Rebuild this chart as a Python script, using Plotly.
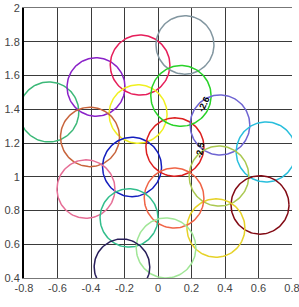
import numpy as np
import plotly.graph_objects as go

# circle centres, radii and colours
cx = [-0.651, -0.370, -0.107, -0.119, -0.406, -0.155, 0.101, 0.161, 0.137, 0.370,
      0.645, 0.364, 0.609, 0.346, 0.096, -0.430, -0.173, 0.048, -0.215]
cy = [1.384, 1.532, 1.662, 1.372, 1.236, 1.058, 1.176, 1.781, 1.479, 1.307,
      1.147, 1.004, 0.833, 0.696, 0.874, 0.927, 0.756, 0.578, 0.465]
rad = [0.178, 0.173, 0.178, 0.173, 0.176, 0.176, 0.173, 0.173, 0.180, 0.178,
       0.178, 0.178, 0.173, 0.173, 0.178, 0.173, 0.173, 0.178, 0.166]
colors = ["#3cb878", "#8a22c8", "#e61e5a", "#f0f020", "#c8643c", "#141ebe", "#dc1e1e",
          "#8296a0", "#28d228", "#6e64d2", "#28bedc", "#aac850", "#820a14", "#e6d228",
          "#f06446", "#e66e96", "#32be8c", "#a0e696", "#281e5a"]

label_text = ["-2.6", "-2.5"]
label_x = [0.275, 0.251]
label_y = [1.431, 1.159]
label_angle = [-65, -80]

x_ticks = [-0.8, -0.6, -0.4, -0.2, 0, 0.2, 0.4, 0.6, 0.8]
y_ticks = [0.4, 0.6, 0.8, 1.0, 1.2, 1.4, 1.6, 1.8, 2.0]

t = np.linspace(0, 2 * np.pi, 121)
fig = go.Figure()
for x0, y0, r, c in zip(cx, cy, rad, colors):
    fig.add_trace(go.Scatter(x=x0 + r * np.cos(t), y=y0 + r * np.sin(t), mode="lines",
                             line=dict(color=c, width=1.5), hoverinfo="skip",
                             showlegend=False))

for s, x, y, a in zip(label_text, label_x, label_y, label_angle):
    fig.add_annotation(x=x, y=y, text="<b>" + s + "</b>", showarrow=False,
                       textangle=a, font=dict(family="Arial", size=9, color="black"))

axis_common = dict(showgrid=True, gridcolor="#3a3a3a", gridwidth=1, zeroline=False,
                   tickfont=dict(family="Arial", size=11, color="#444"),
                   ticks="", showline=True, automargin=False,
                   ticklabeloverflow="allow")
fig.update_xaxes(range=[-0.8, 0.8], tickvals=x_ticks,
                 ticktext=[f"{v:g}" for v in x_ticks], linecolor="#777", linewidth=1,
                 mirror=True, **axis_common)
fig.update_yaxes(range=[0.4, 2.0], tickvals=y_ticks,
                 ticktext=[f"{v:g}" for v in y_ticks], linecolor="black", linewidth=2,
                 **axis_common)
fig.update_layout(width=299, height=307, margin=dict(l=24, r=7, t=8, b=29),
                  plot_bgcolor="white", paper_bgcolor="white")
fig.write_html("out.html")
